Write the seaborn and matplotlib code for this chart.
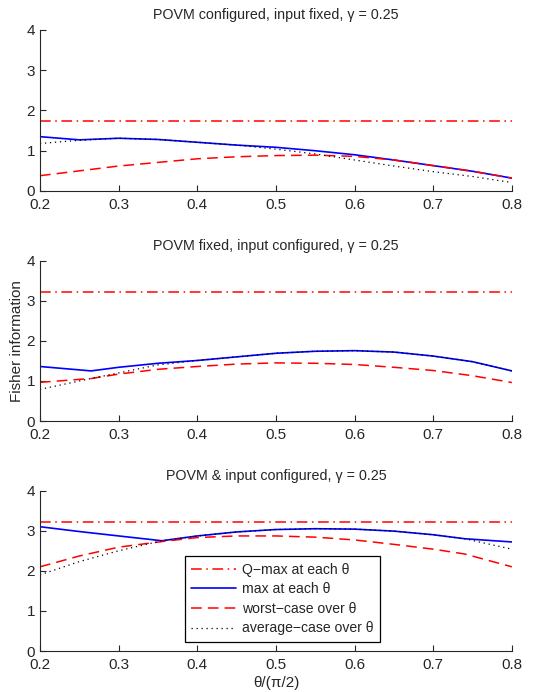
import numpy as np
import pandas as pd
import matplotlib
matplotlib.use("Agg")
import matplotlib.pyplot as plt
import seaborn as sns

# theta / (pi/2)
theta = [0.2, 0.25, 0.3, 0.35, 0.4, 0.45, 0.5, 0.55, 0.6, 0.65, 0.7, 0.75, 0.8]

titles = ["POVM configured, input fixed, γ = 0.25",
          "POVM fixed, input configured, γ = 0.25",
          "POVM & input configured, γ = 0.25"]

qmax = [1.75, 3.23, 3.23]

# panel 1
max1 = [1.35, 1.27, 1.31, 1.28, 1.21, 1.14, 1.085, 1.0, 0.90, 0.77, 0.63, 0.49, 0.32]
worst1 = [0.38, 0.50, 0.62, 0.71, 0.80, 0.85, 0.88, 0.89, 0.86, 0.77, 0.63, 0.49, 0.32]
avg1 = [1.18, 1.26, 1.31, 1.28, 1.21, 1.14, 1.04, 0.92, 0.77, 0.62, 0.48, 0.36, 0.21]

# panel 2
theta2 = [0.2, 0.265, 0.3, 0.35, 0.4, 0.45, 0.5, 0.55, 0.6, 0.65, 0.7, 0.75, 0.8]
max2 = [1.36, 1.25, 1.34, 1.44, 1.51, 1.60, 1.69, 1.74, 1.755, 1.72, 1.62, 1.48, 1.25]
worst2 = [0.965, 1.06, 1.17, 1.29, 1.36, 1.42, 1.45, 1.44, 1.41, 1.34, 1.26, 1.13, 0.96]
avg2 = [0.79, 1.06, 1.20, 1.40, 1.51, 1.60, 1.69, 1.74, 1.755, 1.72, 1.62, 1.48, 1.25]

# panel 3
theta3 = [0.2, 0.25, 0.3, 0.355, 0.4, 0.45, 0.5, 0.55, 0.6, 0.65, 0.7, 0.74, 0.8]
max3 = [3.10, 2.98, 2.87, 2.75, 2.87, 2.97, 3.03, 3.05, 3.04, 2.99, 2.90, 2.80, 2.72]
worst3 = [2.10, 2.37, 2.59, 2.73, 2.83, 2.87, 2.87, 2.84, 2.77, 2.66, 2.54, 2.42, 2.10]
avg3 = [1.90, 2.23, 2.50, 2.75, 2.87, 2.97, 3.03, 3.05, 3.04, 2.99, 2.90, 2.80, 2.54]

panels = [(theta, max1, worst1, avg1), (theta2, max2, worst2, avg2), (theta3, max3, worst3, avg3)]

sns.set_style("ticks")
plt.rcParams['font.family'] = ['Liberation Sans', 'DejaVu Sans']
plt.rcParams['xtick.direction'] = 'in'
plt.rcParams['ytick.direction'] = 'in'

fig = plt.figure(figsize=(5.4, 6.92), dpi=100)
boxes = [[0.074, 0.724, 0.874, 0.2327],
         [0.074, 0.3916, 0.874, 0.2317],
         [0.074, 0.0592, 0.874, 0.2318]]

for i, (x, ymax, yworst, yavg) in enumerate(panels):
    ax = fig.add_axes(boxes[i])
    sns.lineplot(x=[0.2, 0.8], y=[qmax[i], qmax[i]], ax=ax, color='red',
                 linestyle=(0, (7, 3, 1, 3)), linewidth=1.1, label='Q\u2212max at each θ')
    sns.lineplot(x=x, y=ymax, ax=ax, color='blue', linewidth=1.2, label='max at each θ')
    sns.lineplot(x=x, y=yworst, ax=ax, color='red', linestyle=(0, (7, 4)),
                 linewidth=1.1, label='worst\u2212case over θ')
    sns.lineplot(x=x, y=yavg, ax=ax, color='black', linestyle=(0, (1, 3)),
                 linewidth=0.9, label='average\u2212case over θ')
    ax.set_xlim(0.2, 0.8)
    ax.set_ylim(0, 4)
    ax.set_xticks([0.2, 0.3, 0.4, 0.5, 0.6, 0.7, 0.8])
    ax.set_yticks([0, 1, 2, 3, 4])
    ax.tick_params(labelsize=11, length=4, width=0.8)
    ax.tick_params(axis='x', pad=5)
    ax.set_title(titles[i], fontsize=10.3, pad=8)
    for s in ['top', 'right']:
        ax.spines[s].set_visible(False)
    for s in ['left', 'bottom']:
        ax.spines[s].set_linewidth(0.8)
    if i == 1:
        ax.set_ylabel('Fisher information', fontsize=11, labelpad=2)
    if i == 2:
        ax.set_xlabel('θ/(π/2)', fontsize=11, labelpad=3)
        leg = ax.legend(loc='lower left', bbox_to_anchor=(0.307, 0.058, 0.413, 0.585),
                        mode='expand', fontsize=10.1, handlelength=3.2, handletextpad=0.45,
                        borderpad=0.45, frameon=True, fancybox=False, framealpha=1,
                        edgecolor='black', borderaxespad=0, labelspacing=0.4)
        leg.get_frame().set_linewidth(0.9)
    else:
        ax.get_legend().remove()

fig.savefig('out.png', dpi=100)
